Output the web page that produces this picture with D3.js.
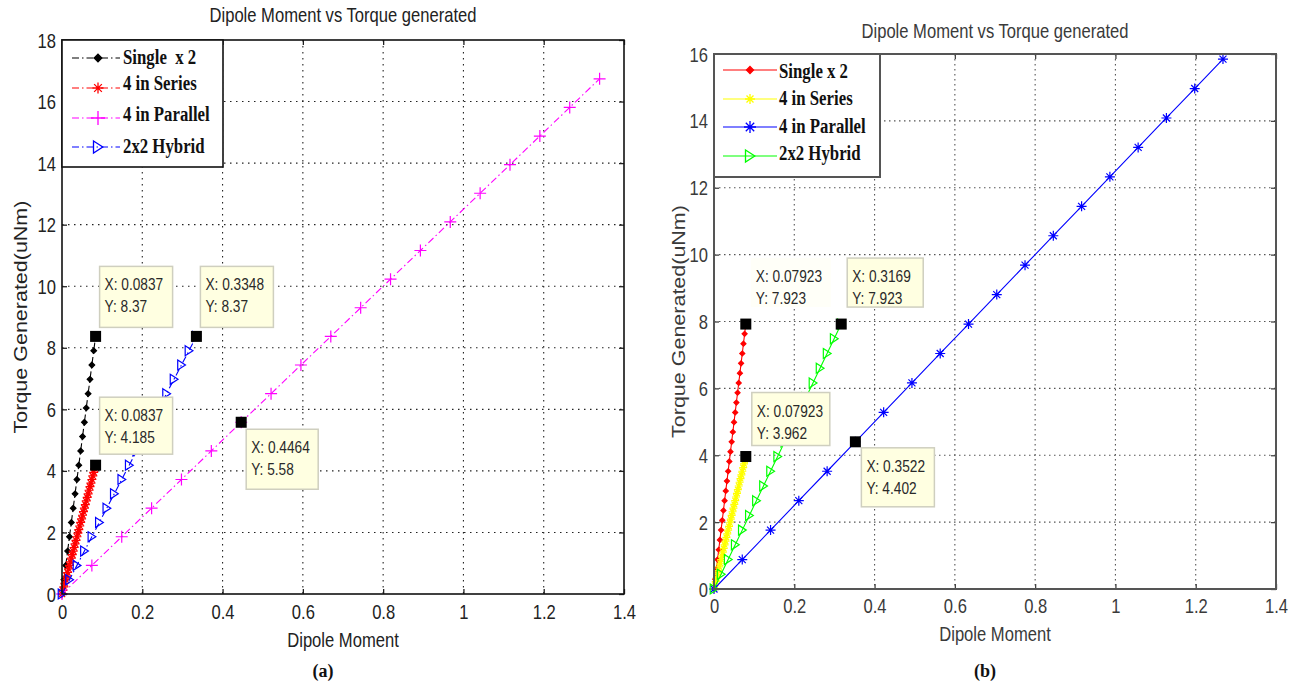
<!DOCTYPE html>
<html>
<head>
<meta charset="utf-8">
<script src="https://cdn.jsdelivr.net/npm/d3@7"></script>
<style>
  body { margin: 0; background: #fff; }
  text { font-family: "Liberation Sans", Arial, sans-serif; }
</style>
</head>
<body>
<svg id="chart" width="1297" height="687"></svg>
<script>
// ---------- data ----------
const xTicks = [0, 0.2, 0.4, 0.6, 0.8, 1, 1.2, 1.4];
const xTickLabels = ['0', '0.2', '0.4', '0.6', '0.8', '1', '1.2', '1.4'];
const yTicksA = [0, 2, 4, 6, 8, 10, 12, 14, 16, 18];
const yTicksB = [0, 2, 4, 6, 8, 10, 12, 14, 16];
const seriesNamesA = ['Single  x 2', '4 in Series', '4 in Parallel', '2x2 Hybrid'];
const seriesNamesB = ['Single x 2', '4 in Series', '4 in Parallel', '2x2 Hybrid'];

// panel (a)
const singleAX = [0, 0.00465, 0.0093, 0.01395, 0.0186, 0.02325, 0.0279, 0.03255, 0.0372, 0.04185, 0.0465, 0.05115, 0.0558, 0.06045, 0.0651, 0.06975, 0.0744, 0.07905, 0.0837];
const singleAY = [0, 0.465, 0.93, 1.395, 1.86, 2.325, 2.79, 3.255, 3.72, 4.185, 4.65, 5.115, 5.58, 6.045, 6.51, 6.975, 7.44, 7.905, 8.37];
const seriesAX = [0, 0.00233, 0.00465, 0.00698, 0.0093, 0.01163, 0.01395, 0.01628, 0.0186, 0.02093, 0.02325, 0.02558, 0.0279, 0.03023, 0.03255, 0.03488, 0.0372, 0.03953, 0.04185, 0.04418, 0.0465, 0.04883, 0.05115, 0.05348, 0.0558, 0.05813, 0.06045, 0.06278, 0.0651, 0.06743, 0.06975, 0.07208, 0.0744, 0.07673, 0.07905, 0.08138, 0.0837];
const seriesAY = [0, 0.116, 0.233, 0.349, 0.465, 0.581, 0.698, 0.814, 0.93, 1.046, 1.163, 1.279, 1.395, 1.511, 1.628, 1.744, 1.86, 1.976, 2.093, 2.209, 2.325, 2.441, 2.558, 2.674, 2.79, 2.906, 3.023, 3.139, 3.255, 3.371, 3.488, 3.604, 3.72, 3.836, 3.953, 4.069, 4.185];
const parallelAX = [0, 0.0744, 0.1488, 0.2232, 0.2976, 0.372, 0.4464, 0.5208, 0.5952, 0.6696, 0.744, 0.8184, 0.8928, 0.9672, 1.0416, 1.116, 1.1904, 1.2648, 1.3392];
const parallelAY = [0, 0.93, 1.86, 2.79, 3.72, 4.65, 5.58, 6.51, 7.44, 8.37, 9.3, 10.23, 11.16, 12.09, 13.02, 13.95, 14.88, 15.81, 16.74];
const hybridAX = [0, 0.0186, 0.0372, 0.0558, 0.0744, 0.093, 0.1116, 0.1302, 0.1488, 0.1674, 0.186, 0.2046, 0.2232, 0.2418, 0.2604, 0.279, 0.2976, 0.3162, 0.3348];
const hybridAY = [0, 0.465, 0.93, 1.395, 1.86, 2.325, 2.79, 3.255, 3.72, 4.185, 4.65, 5.115, 5.58, 6.045, 6.51, 6.975, 7.44, 7.905, 8.37];
const tipsA = [[0.0837, 8.37], [0.3348, 8.37], [0.0837, 4.185], [0.4464, 5.58]];

// panel (b)
const singleBX = [0, 0.00293, 0.00587, 0.0088, 0.01174, 0.01467, 0.01761, 0.02054, 0.02348, 0.02641, 0.02934, 0.03228, 0.03521, 0.03815, 0.04108, 0.04402, 0.04695, 0.04989, 0.05282, 0.05576, 0.05869, 0.06162, 0.06456, 0.06749, 0.07043, 0.07336, 0.0763, 0.07923];
const singleBY = [0, 0.293, 0.587, 0.88, 1.174, 1.467, 1.761, 2.054, 2.348, 2.641, 2.934, 3.228, 3.521, 3.815, 4.108, 4.402, 4.695, 4.989, 5.282, 5.576, 5.869, 6.162, 6.456, 6.749, 7.043, 7.336, 7.63, 7.923];
const seriesBX = [0, 0.0022, 0.0044, 0.0066, 0.0088, 0.011, 0.0132, 0.0154, 0.0176, 0.01982, 0.02202, 0.02422, 0.02642, 0.02862, 0.03082, 0.03302, 0.03522, 0.03742, 0.03962, 0.04182, 0.04402, 0.04622, 0.04842, 0.05062, 0.05282, 0.05502, 0.05722, 0.05942, 0.06162, 0.06384, 0.06604, 0.06824, 0.07044, 0.07264, 0.07484, 0.07704, 0.07923];
const seriesBY = [0, 0.11, 0.22, 0.33, 0.44, 0.55, 0.66, 0.77, 0.88, 0.991, 1.101, 1.211, 1.321, 1.431, 1.541, 1.651, 1.761, 1.871, 1.981, 2.091, 2.201, 2.311, 2.421, 2.531, 2.641, 2.751, 2.861, 2.971, 3.081, 3.192, 3.302, 3.412, 3.522, 3.632, 3.742, 3.852, 3.962];
const parallelBX = [0, 0.0704, 0.1409, 0.2113, 0.2818, 0.3522, 0.4226, 0.4931, 0.5635, 0.634, 0.7044, 0.7748, 0.8453, 0.9157, 0.9862, 1.0566, 1.127, 1.1975, 1.2679];
const parallelBY = [0, 0.8804, 1.7608, 2.6412, 3.5216, 4.402, 5.2824, 6.1628, 7.0432, 7.9236, 8.804, 9.6844, 10.5648, 11.4452, 12.3256, 13.206, 14.0864, 14.9668, 15.8472];
const hybridBX = [0, 0.0176, 0.0352, 0.0528, 0.0704, 0.088, 0.1056, 0.1232, 0.1408, 0.1585, 0.1761, 0.1937, 0.2113, 0.2289, 0.2465, 0.2641, 0.2817, 0.2993, 0.3169];
const hybridBY = [0, 0.4402, 0.8804, 1.3206, 1.7608, 2.2009, 2.6411, 3.0813, 3.5215, 3.9617, 4.4019, 4.8421, 5.2823, 5.7225, 6.1627, 6.6029, 7.0431, 7.4832, 7.923];
const tipsB = [[0.07923, 7.923], [0.3169, 7.923], [0.07923, 3.962], [0.3522, 4.402]];

// ---------- drawing ----------
const svg = d3.select('#chart');
const SX = 0.83; // the source figure is squeezed horizontally, so is its text

const markerPath = (type, s) => {
  const d = s * 0.7;
  switch (type) {
    case 'diamond': return `M0,${-s}L${s},0L0,${s}L${-s},0Z`;
    case 'plus': return `M${-s},0H${s}M0,${-s}V${s}`;
    case 'star': return `M${-s},0H${s}M0,${-s}V${s}M${-d},${-d}L${d},${d}M${-d},${d}L${d},${-d}`;
    case 'tri': return `M${-s * 0.75},${-s}L${s * 0.8},0L${-s * 0.75},${s}Z`;
  }
};

const zip = (xs, ys) => xs.map((v, i) => [v, ys[i]]);

const panels = [
  {
    box: {left: 62, top: 40, right: 624, bottom: 594},
    yMax: 18, yTicks: yTicksA, names: seriesNamesA,
    frame: '#111', frameWidth: 1.6, tickColor: '#222', gridColor: '#222', gridDash: '1.5,4.5',
    labelColor: '#222',
    titleY: 22, xLabelY: 647, yLabelX: 27, caption: '(a)', captionX: 323,
    series: [
      {pts: zip(singleAX, singleAY), color: '#000', marker: 'diamond', size: 2.8, dash: '7,3,1.5,3'},
      {pts: zip(seriesAX, seriesAY), color: '#ff0000', marker: 'star', size: 4.5, dash: '7,3,1.5,3'},
      {pts: zip(parallelAX, parallelAY), color: '#ff00ff', marker: 'plus', size: 6, dash: '7,3,1.5,3'},
      {pts: zip(hybridAX, hybridAY), color: '#0000ff', marker: 'tri', size: 5, dash: '7,3,1.5,3'}
    ],
    legend: {w: 161, h: 127, rows: [58, 88, 118, 147], textDy: [0, -4, -3, 0], lineX: [72, 120], markX: 98, textX: 123},
    tips: tipsA,
    tipBoxes: [
      {dx: 4, dy: -70, w: 73, h: 61, plain: false},
      {dx: 4, dy: -70, w: 73, h: 61, plain: false},
      {dx: 4, dy: -68, w: 73, h: 57, plain: false},
      {dx: 5, dy: 7, w: 72, h: 60, plain: false}
    ]
  },
  {
    box: {left: 714, top: 54, right: 1276, bottom: 589},
    yMax: 16, yTicks: yTicksB, names: seriesNamesB,
    frame: '#555', frameWidth: 2, tickColor: '#444', gridColor: '#555', gridDash: '1.5,3.5',
    labelColor: '#3a3a3a',
    titleY: 38, xLabelY: 641, yLabelX: 685, caption: '(b)', captionX: 985,
    series: [
      {pts: zip(singleBX, singleBY), color: '#ff0000', marker: 'diamond', size: 2.5, dash: null},
      {pts: zip(seriesBX, seriesBY), color: '#ffff00', marker: 'star', size: 4, dash: null},
      {pts: zip(parallelBX, parallelBY), color: '#0000ff', marker: 'star', size: 5, dash: null},
      {pts: zip(hybridBX, hybridBY), color: '#00ff00', marker: 'tri', size: 5, dash: null}
    ],
    legend: {w: 166, h: 123, rows: [70, 99, 127, 156], textDy: [2, 0, 0, -2], lineX: [723, 777], markX: 750, textX: 779},
    tips: tipsB,
    tipBoxes: [
      {dx: 5, dy: -66, w: 80, h: 49, plain: true},
      {dx: 6, dy: -66, w: 76, h: 49, plain: false},
      {dx: 6, dy: -64, w: 78, h: 53, plain: false},
      {dx: 6, dy: 6, w: 73, h: 59, plain: false}
    ]
  }
];

// horizontally squeezed text, like the source picture
const squeezed = (g, x, y, txt, size, anchor) => g.append('text')
  .attr('transform', `translate(${x},${y}) scale(${SX},1)`)
  .attr('text-anchor', anchor || 'start')
  .style('font-size', size + 'px')
  .text(txt);

const drawPanel = p => {
  const b = p.box;
  const x = d3.scaleLinear().domain([0, 1.4]).range([b.left, b.right]);
  const y = d3.scaleLinear().domain([0, p.yMax]).range([b.bottom, b.top]);
  const g = svg.append('g');

  g.append('rect').attr('x', b.left).attr('y', b.top)
    .attr('width', b.right - b.left).attr('height', b.bottom - b.top).attr('fill', '#fff');

  // dotted grid
  g.append('g').selectAll('line').data(xTicks.slice(1, -1)).enter().append('line')
    .attr('x1', d => x(d)).attr('x2', d => x(d)).attr('y1', b.top).attr('y2', b.bottom)
    .attr('stroke', p.gridColor).attr('stroke-width', 1.1).attr('stroke-dasharray', p.gridDash);
  g.append('g').selectAll('line').data(p.yTicks.slice(1, -1)).enter().append('line')
    .attr('y1', d => y(d)).attr('y2', d => y(d)).attr('x1', b.left).attr('x2', b.right)
    .attr('stroke', p.gridColor).attr('stroke-width', 1.1).attr('stroke-dasharray', p.gridDash);

  // axes, ticks pointing in on all four sides
  const styleAxis = sel => {
    sel.select('.domain').remove();
    sel.selectAll('.tick line').attr('stroke', p.tickColor).attr('stroke-width', 1.3);
    sel.selectAll('text').attr('fill', p.labelColor).style('font-size', '19.5px');
  };
  g.append('g').attr('transform', `translate(0,${b.bottom})`)
    .call(d3.axisBottom(x).tickValues(xTicks).tickFormat((d, i) => xTickLabels[i]).tickSize(-5))
    .call(styleAxis)
    .selectAll('text').attr('y', 0).attr('dy', 0)
    .attr('transform', `translate(0,${p === panels[0] ? 25 : 24}) scale(0.85,1)`);
  g.append('g').attr('transform', `translate(0,${b.top})`)
    .call(d3.axisTop(x).tickValues(xTicks).tickFormat('').tickSize(-5)).call(styleAxis);
  g.append('g').attr('transform', `translate(${b.left},0)`)
    .call(d3.axisLeft(y).tickValues(p.yTicks).tickFormat(d3.format('d')).tickSize(-5))
    .call(styleAxis)
    .selectAll('text').attr('x', 0).attr('dy', '0.36em')
    .attr('transform', 'translate(-6,0) scale(0.85,1)');
  g.append('g').attr('transform', `translate(${b.right},0)`)
    .call(d3.axisRight(y).tickValues(p.yTicks).tickFormat('').tickSize(-5)).call(styleAxis);

  // series lines + markers
  const line = d3.line().x(d => x(d[0])).y(d => y(d[1]));
  p.series.forEach(s => {
    g.append('path').datum(s.pts).attr('d', line).attr('fill', 'none')
      .attr('stroke', s.color).attr('stroke-width', 1.1)
      .attr('stroke-dasharray', s.dash);
    g.append('g').selectAll('path').data(s.pts).enter().append('path')
      .attr('transform', d => `translate(${x(d[0])},${y(d[1])})`)
      .attr('d', markerPath(s.marker, s.size))
      .attr('fill', s.marker === 'diamond' ? s.color : 'none')
      .attr('stroke', s.color).attr('stroke-width', 1.2);
  });

  g.append('rect').attr('x', b.left).attr('y', b.top)
    .attr('width', b.right - b.left).attr('height', b.bottom - b.top)
    .attr('fill', 'none').attr('stroke', p.frame).attr('stroke-width', p.frameWidth);

  // data tips
  p.tips.forEach((t, i) => {
    const tb = p.tipBoxes[i];
    const px = x(t[0]), py = y(t[1]);
    g.append('rect').attr('x', px + tb.dx).attr('y', py + tb.dy).attr('width', tb.w).attr('height', tb.h)
      .attr('fill', tb.plain ? '#fffff8' : '#ffffe1')
      .attr('stroke', tb.plain ? 'none' : '#cfcfbf').attr('stroke-width', 1.5);
    [`X: ${t[0]}`, `Y: ${t[1]}`].forEach((txt, k) => {
      squeezed(g, px + tb.dx + 5, py + tb.dy + 24 + k * 22, txt, 16.5).attr('fill', '#2a2a2a');
    });
    g.append('rect').attr('x', px - 5.5).attr('y', py - 5.5).attr('width', 11).attr('height', 11)
      .attr('fill', '#000');
  });

  // legend
  const L = p.legend;
  g.append('rect').attr('x', b.left).attr('y', b.top).attr('width', L.w).attr('height', L.h)
    .attr('fill', '#fff').attr('stroke', p.frame).attr('stroke-width', p.frameWidth);
  p.series.forEach((s, i) => {
    const ry = L.rows[i];
    g.append('line').attr('x1', L.lineX[0]).attr('x2', L.lineX[1]).attr('y1', ry).attr('y2', ry)
      .attr('stroke', s.color).attr('stroke-width', 1.2).attr('stroke-dasharray', s.dash);
    g.append('path').attr('transform', `translate(${L.markX},${ry})`)
      .attr('d', markerPath(s.marker, s.size + 1))
      .attr('fill', s.marker === 'diamond' ? s.color : 'none')
      .attr('stroke', s.color).attr('stroke-width', 1.3);
    g.append('text')
      .attr('transform', `translate(${L.textX},${ry + L.textDy[i] + 6}) scale(0.84,1)`)
      .style('font-family', '"Liberation Serif", "Times New Roman", serif')
      .style('white-space', 'pre')
      .style('font-weight', 'bold').style('font-size', '20px').attr('fill', '#111')
      .text(p.names[i]);
  });

  // titles and labels
  squeezed(g, (b.left + b.right) / 2, p.titleY, 'Dipole Moment vs Torque generated', 20, 'middle')
    .attr('fill', p.labelColor);
  squeezed(g, (b.left + b.right) / 2, p.xLabelY, 'Dipole Moment', 20, 'middle')
    .attr('fill', p.labelColor);
  g.append('text')
    .attr('transform', `translate(${p.yLabelX},${(b.top + b.bottom) / 2}) rotate(-90) scale(1,0.85)`)
    .attr('text-anchor', 'middle').style('font-size', '21.5px').attr('fill', p.labelColor)
    .text('Torque Generated(uNm)');
  g.append('text').attr('x', p.captionX).attr('y', 677).attr('text-anchor', 'middle')
    .style('font-family', '"Liberation Serif", "Times New Roman", serif')
    .style('font-weight', 'bold').style('font-size', '18px').attr('fill', '#111')
    .text(p.caption);
};

panels.forEach(drawPanel);
</script>
</body>
</html>
